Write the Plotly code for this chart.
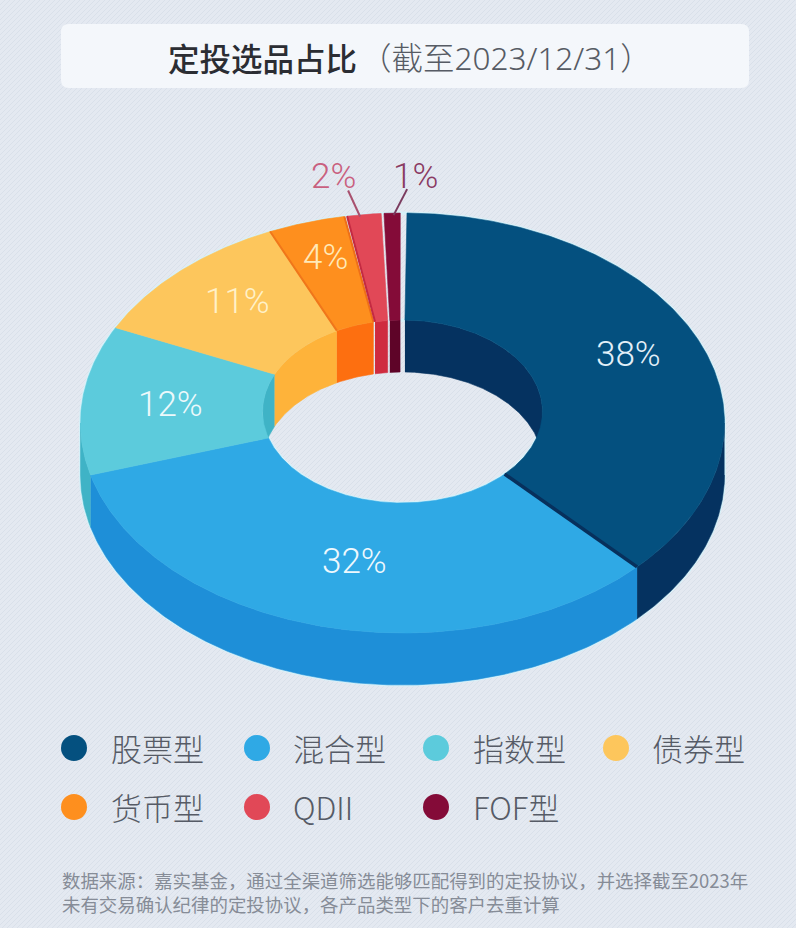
import numpy as np
import plotly.graph_objects as go

# ---- data ----
categories = ["股票型", "混合型", "指数型", "债券型", "货币型", "QDII", "FOF型"]
shares = [38, 32, 12, 11, 4, 2, 1]
top_colors = ["#04507f", "#2fa9e5", "#5ccbdc", "#fdc65c", "#fe8f1e", "#e14857", "#840b38"]
wall_colors = ["#053260", "#1e8fd8", "#3fb3c6", "#feb33a", "#fd6f10", "#cf2b3f", "#5e0428"]

title_main = "定投选品占比"
title_sub = "（截至2023/12/31）"
footnote = ["数据来源：嘉实基金，通过全渠道筛选能够匹配得到的定投协议，并选择截至2023年",
            "未有交易确认纪律的定投协议，各产品类型下的客户去重计算"]

# ---- geometry of the tilted ring, in page pixels ----
CX = 402.5
OUT_CY, OUT_RX, OUT_RY = 423.0, 322.0, 210.0
IN_CY, IN_RX, IN_RY = 411.5, 140.0, 91.5
DEPTH = 52.0
OUT_PADS = [(0.8, 0.0), (0.0, 0.0), (0.0, 0.0), (0.0, 0.0), (0.0, 0.2), (0.3, 0.3), (0.2, 0.4)]
IN_PADS = [(1.0, 0.0), (0.0, 0.0), (0.0, 0.0), (0.0, 0.0), (0.0, 0.2), (0.5, 0.5), (0.4, 1.0)]
OFF_AT = [0, 133, 255, 296, 335, 349, 356.4, 360]
OUT_OFF = [0, 0, 1.3, 1.4, 0.9, 0.6, 0.1, 0]
IN_OFF = [0, 0, -1.2, -1.6, -2.8, -1.0, -2.0, 0]
LABEL_OFFSETS = [(11, -7), (9, -2), (-1, -3), (-2, -9), (-6, -16)]
LABEL_COLORS = ["#e2eff8", "#eef8fd", "#ecf9fb", "#fff1c8", "#ffe9b8"]
CJK = "Noto Sans CJK SC"
NUM = "Roboto, Noto Sans CJK SC"


def warp(deg):
    d = deg - 180.0
    return deg + 0.14 * d * np.exp(-(d / 60.0) ** 2)


def outer(t):
    r = np.radians(t)
    return CX + OUT_RX * np.sin(r), OUT_CY - OUT_RY * np.cos(r)


def inner(t):
    r = np.radians(t)
    return CX + IN_RX * np.sin(r), IN_CY - IN_RY * np.cos(r)


def span(a, b):
    return np.linspace(a, b, max(3, int(abs(b - a) * 2) + 2))


def poly(xs, ys, color, line=0.6):
    return go.Scatter(x=list(xs), y=list(ys), mode="lines", fill="toself", fillcolor=color,
                      line=dict(color=color, width=line), hoverinfo="skip", showlegend=False)


traces = []

# faint diagonal hatch of the backdrop
hx, hy = [], []
for c in np.arange(0, 796 + 928, 5.0):
    hx += [c - 928, c, None]
    hy += [928, 0, None]
traces.append(go.Scatter(x=hx, y=hy, mode="lines", line=dict(color="#d9e0ea", width=1),
                         hoverinfo="skip", showlegend=False))

edges = np.cumsum([0] + shares) / sum(shares) * 360.0


def boundary(a, off):
    return warp(a) + np.interp(a, OFF_AT, off)


out_a = [boundary(a, OUT_OFF) + p[0] for a, p in zip(edges[:-1], OUT_PADS)]
out_b = [boundary(b, OUT_OFF) - p[1] for b, p in zip(edges[1:], OUT_PADS)]
in_a = [boundary(a, IN_OFF) + p[0] for a, p in zip(edges[:-1], IN_PADS)]
in_b = [boundary(b, IN_OFF) - p[1] for b, p in zip(edges[1:], IN_PADS)]

# pale halo around the silhouette
halo_t = span(0, 360)
hx0, hy0 = outer(halo_t)
hx1 = list(hx0[(halo_t >= 90) & (halo_t <= 270)])
hy1 = list(hy0[(halo_t >= 90) & (halo_t <= 270)] + DEPTH)
right = halo_t[halo_t < 90]
left = halo_t[halo_t > 270]
lx, ly = outer(left)
rx, ry = outer(right)
traces.append(go.Scatter(x=list(rx) + hx1 + list(lx) + [rx[0]], y=list(ry) + hy1 + list(ly) + [ry[0]],
                         mode="lines", line=dict(color="#d6f1f9", width=3), hoverinfo="skip", showlegend=False))
ix, iy = inner(span(0, 360))
traces.append(go.Scatter(x=list(ix), y=list(iy), mode="lines", line=dict(color="#d6f1f9", width=3),
                         hoverinfo="skip", showlegend=False))

# outer side walls (front half only)
for a, b, col in zip(out_a, out_b, wall_colors):
    lo, hi = max(a, 90), min(b, 270)
    if hi > lo:
        x, y = outer(span(lo, hi))
        traces.append(poly(np.r_[x, x[::-1]], np.r_[y, y[::-1] + DEPTH], col))

# inner walls (far half only)
for a, b, col in zip(in_a, in_b, wall_colors):
    for lo, hi in ((max(a, 0), min(b, 90)), (max(a, 270), min(b, 360))):
        if hi > lo:
            x, y = inner(span(lo, hi))
            traces.append(poly(np.r_[x, x[::-1]], np.r_[y, y[::-1] + DEPTH], col))

# top faces
for oa, ob, ia, ib, col in zip(out_a, out_b, in_a, in_b, top_colors):
    ox, oy = outer(span(oa, ob))
    ix, iy = inner(span(ib, ia))
    traces.append(poly(np.r_[ox, ix, ox[0]], np.r_[oy, iy, oy[0]], col))

# darker rims on some cut faces
for i_ang, o_ang, col, w in ((in_b[0], out_b[0], "#07305c", 3.5),
                             (in_a[4], out_a[4], "#f0761a", 2),
                             (in_b[4], out_b[4], "#ee6f18", 2),
                             (in_a[5], out_a[5], "#c42a42", 2)):
    x0, y0 = inner(i_ang)
    x1, y1 = outer(o_ang)
    traces.append(go.Scatter(x=[x0, x1], y=[y0, y1], mode="lines", line=dict(color=col, width=w),
                             hoverinfo="skip", showlegend=False))

# leader lines of the two small slices
for i, col, dx_top, dx_low in ((5, "#a8506e", -16, -4), (6, "#7a3a5e", 15, 1.5)):
    x1, y1 = outer((out_a[i] + out_b[i]) / 2)
    traces.append(go.Scatter(x=[x1 + dx_top, x1 + dx_low], y=[y1 - 24, y1 + 2], mode="lines",
                             line=dict(color=col, width=2), hoverinfo="skip", showlegend=False))

# legend dots
LEG_X = [74, 257, 436, 616, 74, 257, 436]
LEG_Y = [748, 748, 748, 748, 807, 807, 807]
LEG_TX = [109, 291, 471, 650, 109, 291, 471]
traces.append(go.Scatter(x=LEG_X, y=LEG_Y, mode="markers",
                         marker=dict(size=26, color=top_colors, line=dict(width=0)),
                         hoverinfo="skip", showlegend=False))

fig = go.Figure(traces)

ann = []


def text(x, y, s, size, color, anchor="left", family=CJK, weight=None):
    ann.append(dict(x=x, y=y, text=s, xref="x", yref="y", showarrow=False, xanchor=anchor, yanchor="middle",
                    font=dict(size=size, color=color, family=family, weight=weight), align=anchor))


# percentage labels
for i, s in enumerate(shares[:5]):
    r = np.radians((edges[i] + edges[i + 1]) / 2)
    x = CX + (OUT_RX + IN_RX) / 2 * np.sin(r) + LABEL_OFFSETS[i][0]
    y = (OUT_CY + IN_CY) / 2 - (OUT_RY + IN_RY) / 2 * np.cos(r) + LABEL_OFFSETS[i][1]
    text(x, y, f"{s}%", 35, LABEL_COLORS[i], "center", NUM, 300)
text(333, 176, f"{shares[5]}%", 35, "#c9607f", "center", NUM, 300)
text(415, 176, f"{shares[6]}%", 35, "#8a3a63", "center", NUM, 300)

# title
text(166, 57, title_main, 31.5, "#2b2d33", "left", CJK, 500)
text(358, 57, title_sub, 31.5, "#565b64", "left", "Noto Sans, Noto Sans CJK SC", 300)

# legend labels
for tx, ty, c in zip(LEG_TX, LEG_Y, categories):
    text(tx, ty - 1, c, 31, "#565b66", "left", CJK, 300)

# footnote
text(60, 891.5, "<br>".join(footnote), 18.45, "#868c97", "left", CJK, 400)

X0, X1, Y0, Y1, R = 61, 749, 24, 88, 8
box = (f"M{X0+R},{Y0} L{X1-R},{Y0} Q{X1},{Y0} {X1},{Y0+R} L{X1},{Y1-R} Q{X1},{Y1} {X1-R},{Y1} "
       f"L{X0+R},{Y1} Q{X0},{Y1} {X0},{Y1-R} L{X0},{Y0+R} Q{X0},{Y0} {X0+R},{Y0} Z")

fig.update_layout(
    width=796, height=928, margin=dict(l=0, r=0, t=0, b=0),
    paper_bgcolor="#e4e9f1", plot_bgcolor="#e4e9f1", showlegend=False,
    xaxis=dict(range=[0, 796], visible=False, fixedrange=True),
    yaxis=dict(range=[928, 0], visible=False, fixedrange=True),
    annotations=ann,
    shapes=[dict(type="path", path=box, xref="x", yref="y", fillcolor="#f4f7fb",
                 line=dict(width=0), layer="above")],
)
fig.write_html("out.html", config={"displayModeBar": False},
               post_script="document.body.style.margin='0';document.body.style.overflow='hidden';")
